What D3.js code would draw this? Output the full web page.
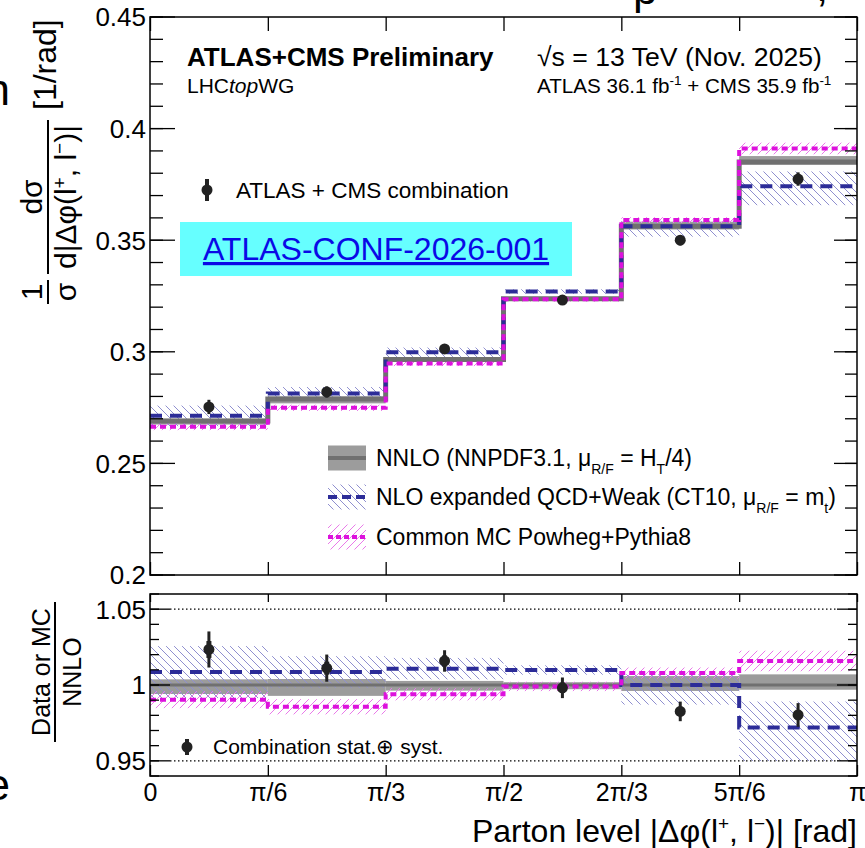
<!DOCTYPE html>
<html>
<head>
<meta charset="utf-8">
<script src="https://cdn.jsdelivr.net/npm/d3@7"></script>
<style>
  body { margin: 0; background: #fff; }
  svg { display: block; }
  text { font-family: "Liberation Sans", Arial, Helvetica, sans-serif; fill: #000; }
</style>
</head>
<body>
<svg id="chart" width="865" height="848"></svg>
<script>
// ---- Binning: |Δφ(l+, l-)| in units of π/6 ----
const binEdgeMultiples = [0, 1, 2, 3, 4, 5, 6];
const xTickLabels = ["0", "π/6", "π/3", "π/2", "2π/3", "5π/6", "π"];

// ---- ATLAS + CMS combination (normalised cross-section, 1/rad) ----
const combValues  = [0.2753, 0.2820, 0.3013, 0.3232, 0.3500, 0.3774];
const combTotErr  = [0.0032, 0.0025, 0.0021, 0.0022, 0.0023, 0.0030];
const combStatErr = [0.0015, 0.0012, 0.0011, 0.0011, 0.0011, 0.0013];

// ---- NNLO (NNPDF3.1, μR/F = HT/4) ----
const nnloValues = [0.2690, 0.2789, 0.2966, 0.3238, 0.3562, 0.3850];
const nnloUp     = [0.0010, 0.0011, 0.0008, 0.0006, 0.0021, 0.0027];
const nnloDown   = [0.0016, 0.0020, 0.0011, 0.0009, 0.0014, 0.0012];

// ---- NLO expanded QCD+Weak (CT10, μR/F = mt) ----
const nloValues = [0.2713, 0.2813, 0.2998, 0.3270, 0.3562, 0.3742];
const nloUp     = [0.0046, 0.0029, 0.0021, 0.0010, 0.0025, 0.0066];
const nloDown   = [0.0046, 0.0029, 0.0021, 0.0010, 0.0046, 0.0085];

// ---- Common MC Powheg+Pythia8 ----
const mcValues = [0.2664, 0.2749, 0.2948, 0.3235, 0.3590, 0.3911];
const mcUp     = [0.0015, 0.0014, 0.0012, 0.0010, 0.0013, 0.0026];
const mcDown   = [0.0015, 0.0014, 0.0012, 0.0010, 0.0013, 0.0026];

// ---- Axis ticks ----
const mainMajorTicks  = [0.2, 0.25, 0.3, 0.35, 0.4, 0.45];
const mainTickLabels  = ["0.2", "0.25", "0.3", "0.35", "0.4", "0.45"];
const ratioMajorTicks = [0.95, 1.0, 1.05];
const ratioTickLabels = ["0.95", "1", "1.05"];
const mainDomain  = [0.2, 0.45];
const ratioDomain = [0.94, 1.06];

// ---- Colours ----
const colNNLOBand = "#9c9c9c", colNNLOLine = "#707070";
const colNLO = "#2c2c98", colNLOHatch = "#8f8fcf";
const colMC = "#dd11dd", colMCHatch = "#e97ae9";

const svg = d3.select("#chart");
const L = 150, R = 857;
const mainTop = 17, mainBot = 575;
const ratioTop = 594, ratioBot = 776;

const PI = Math.PI;
const binEdges = binEdgeMultiples.map(k => k * PI / 6);
const x = d3.scaleLinear().domain([0, PI]).range([L, R]);
const yMain = d3.scaleLinear().domain(mainDomain).range([mainBot, mainTop]);
const yRatio = d3.scaleLinear().domain(ratioDomain).range([ratioBot, ratioTop]);

// hatch patterns
const defs = svg.append("defs");
function hatch(id, color, dir) {
  const p = defs.append("pattern").attr("id", id)
    .attr("patternUnits", "userSpaceOnUse").attr("width", 8).attr("height", 8);
  const segs = dir === "back"
    ? [[-2, -2, 10, 10], [-2, 6, 2, 10], [6, -2, 10, 2]]
    : [[-2, 10, 10, -2], [-2, 2, 2, -2], [6, 10, 10, 6]];
  segs.forEach(s => p.append("line")
    .attr("x1", s[0]).attr("y1", s[1]).attr("x2", s[2]).attr("y2", s[3])
    .attr("stroke", color).attr("stroke-width", 1));
}
hatch("hatchNLO", colNLOHatch, "back");
hatch("hatchMC", colMCHatch, "fwd");

defs.append("clipPath").attr("id", "clipMain").append("rect")
  .attr("x", L).attr("y", mainTop).attr("width", R - L).attr("height", mainBot - mainTop);
defs.append("clipPath").attr("id", "clipRatio").append("rect")
  .attr("x", L).attr("y", ratioTop).attr("width", R - L).attr("height", ratioBot - ratioTop);

const bins = d3.range(combValues.length).map(i => ({
  i, lo: binEdges[i], hi: binEdges[i + 1], mid: (binEdges[i] + binEdges[i + 1]) / 2
}));

function stepPath(vals, y) {
  let d = `M${x(binEdges[0])},${y(vals[0])}`;
  vals.forEach((v, i) => {
    if (i > 0) d += `V${y(v)}`;
    d += `H${x(binEdges[i + 1])}`;
  });
  return d;
}

function drawBands(g, y, lo, hi, fill) {
  g.selectAll(null).data(bins).join("rect")
    .attr("x", b => x(b.lo)).attr("width", b => x(b.hi) - x(b.lo))
    .attr("y", b => y(hi[b.i])).attr("height", b => Math.max(0, y(lo[b.i]) - y(hi[b.i])))
    .attr("fill", fill);
}

function drawPanel(y, ratio, clipId) {
  const g = svg.append("g").attr("clip-path", `url(#${clipId})`);
  const norm = ratio ? nnloValues : nnloValues.map(() => 1);
  const sc = (vals) => vals.map((v, i) => v / norm[i]);
  const band = (vals, up, dn) => [
    vals.map((v, i) => (v - dn[i]) / norm[i]),
    vals.map((v, i) => (v + up[i]) / norm[i])
  ];
  const nn = band(nnloValues, nnloUp, nnloDown);
  const nl = band(nloValues, nloUp, nloDown);
  const mc = band(mcValues, mcUp, mcDown);
  drawBands(g, y, nn[0], nn[1], colNNLOBand);
  drawBands(g, y, nl[0], nl[1], "url(#hatchNLO)");
  drawBands(g, y, mc[0], mc[1], "url(#hatchMC)");
  g.append("path").attr("d", stepPath(sc(nnloValues), y))
    .attr("fill", "none").attr("stroke", colNNLOLine).attr("stroke-width", ratio ? 3 : 5);
  g.append("path").attr("d", stepPath(sc(nloValues), y))
    .attr("fill", "none").attr("stroke", colNLO).attr("stroke-width", 4)
    .attr("stroke-dasharray", "12,8");
  g.append("path").attr("d", stepPath(sc(mcValues), y))
    .attr("fill", "none").attr("stroke", colMC).attr("stroke-width", 4)
    .attr("stroke-dasharray", "6,4");
  // combination points
  const pts = g.append("g");
  bins.forEach(b => {
    const v = combValues[b.i] / norm[b.i];
    const et = combTotErr[b.i] / norm[b.i];
    const es = combStatErr[b.i] / norm[b.i];
    const cx = x(b.mid);
    pts.append("line").attr("x1", cx).attr("x2", cx)
      .attr("y1", y(v - et)).attr("y2", y(v + et))
      .attr("stroke", "#222").attr("stroke-width", 3);
    pts.append("line").attr("x1", cx).attr("x2", cx)
      .attr("y1", y(v - es)).attr("y2", y(v + es))
      .attr("stroke", "#222").attr("stroke-width", 5);
    pts.append("circle").attr("cx", cx).attr("cy", y(v)).attr("r", 5.5).attr("fill", "#222");
  });
}

drawPanel(yMain, false, "clipMain");
drawPanel(yRatio, true, "clipRatio");

// dotted reference lines in the ratio panel
[1.05, 0.95].forEach(v => {
  svg.append("line").attr("x1", L + 20).attr("x2", R - 20)
    .attr("y1", yRatio(v)).attr("y2", yRatio(v))
    .attr("stroke", "#000").attr("stroke-width", 1.2).attr("stroke-dasharray", "1.5,2.5");
});

// ---- axes ----
function yAxis(y, majors, labels, minors, majLen, minLen, showLabels, side) {
  const pos = side === "left" ? L : R;
  const sign = side === "left" ? 1 : -1;
  const g = svg.append("g");
  g.selectAll(null).data(minors).join("line")
    .attr("x1", pos).attr("x2", pos + sign * minLen)
    .attr("y1", d => y(d)).attr("y2", d => y(d)).attr("stroke", "#000").attr("stroke-width", 1.3);
  g.selectAll(null).data(majors).join("line")
    .attr("x1", pos).attr("x2", pos + sign * majLen)
    .attr("y1", d => y(d)).attr("y2", d => y(d)).attr("stroke", "#000").attr("stroke-width", 1.3);
  if (showLabels) {
    g.selectAll(null).data(majors).join("text")
      .attr("x", pos - 4).attr("y", d => y(d)).attr("dy", "0.36em")
      .attr("text-anchor", "end").attr("font-size", 26)
      .text((d, i) => labels[i]);
  }
}
const mainMinors = d3.range(0.20, 0.4501, 0.01).map(v => +v.toFixed(2));
const ratioMinors = d3.range(0.94, 1.0601, 0.01).map(v => +v.toFixed(2));
yAxis(yMain, mainMajorTicks, mainTickLabels, mainMinors, 25, 13, true, "left");
yAxis(yMain, mainMajorTicks, mainTickLabels, mainMinors, 23, 12, false, "right");
yAxis(yRatio, ratioMajorTicks, ratioTickLabels, ratioMinors, 20, 9, true, "left");
yAxis(yRatio, ratioMajorTicks, ratioTickLabels, ratioMinors, 20, 9, false, "right");

// x ticks through d3 axis generators (inner ticks)
const xTickVals = binEdges;
function xTicks(yPos, len, orient) {
  const axis = (orient === "top" ? d3.axisTop(x) : d3.axisBottom(x))
    .tickValues(xTickVals).tickSizeOuter(0).tickSizeInner(-len).tickFormat("");
  const g = svg.append("g").attr("transform", `translate(0,${yPos})`).call(axis);
  g.select(".domain").remove();
  g.selectAll(".tick line").attr("stroke", "#000").attr("stroke-width", 1.3);
  return g;
}
xTicks(mainTop, 14, "top");
xTicks(mainBot, 13, "bottom");
xTicks(ratioTop, 8, "top");
const xb = svg.append("g").attr("transform", `translate(0,${ratioBot})`)
  .call(d3.axisBottom(x).tickValues(xTickVals).tickSizeOuter(0).tickSizeInner(-11)
    .tickPadding(7).tickFormat((d, i) => xTickLabels[i]));
xb.select(".domain").remove();
xb.selectAll(".tick line").attr("stroke", "#000").attr("stroke-width", 1.3);
xb.selectAll(".tick text").attr("font-size", 25).attr("fill", "#000")
  .attr("font-family", "Liberation Sans, Arial, sans-serif");

// frames
[[mainTop, mainBot], [ratioTop, ratioBot]].forEach(([t, b]) => {
  svg.append("rect").attr("x", L).attr("y", t).attr("width", R - L).attr("height", b - t)
    .attr("fill", "none").attr("stroke", "#000").attr("stroke-width", 1.5);
});

// ---- header text ----
svg.append("text").attr("x", 187).attr("y", 66).attr("font-size", 26).attr("font-weight", "bold")
  .text("ATLAS+CMS Preliminary");
const lhc = svg.append("text").attr("x", 187).attr("y", 93).attr("font-size", 21);
lhc.append("tspan").text("LHC");
lhc.append("tspan").attr("font-style", "italic").text("top");
lhc.append("tspan").text("WG");
svg.append("text").attr("x", 537).attr("y", 66).attr("font-size", 26.6)
  .text("√s = 13 TeV (Nov. 2025)");
const lumi = svg.append("text").attr("x", 537).attr("y", 93).attr("font-size", 20.6);
lumi.append("tspan").text("ATLAS 36.1 fb");
lumi.append("tspan").attr("dy", -8).attr("font-size", 13.5).text("-1");
lumi.append("tspan").attr("dy", 8).text(" + CMS 35.9 fb");
lumi.append("tspan").attr("dy", -8).attr("font-size", 13.5).text("-1");

// ---- legend: combination ----
function marker(g, cx, cy, h) {
  g.append("line").attr("x1", cx).attr("x2", cx).attr("y1", cy - h).attr("y2", cy + h)
    .attr("stroke", "#222").attr("stroke-width", 4);
  g.append("circle").attr("cx", cx).attr("cy", cy).attr("r", 5.5).attr("fill", "#222");
}
marker(svg, 207, 190, 11);
svg.append("text").attr("x", 236).attr("y", 198).attr("font-size", 22.5).text("ATLAS + CMS combination");

// reference box
svg.append("rect").attr("x", 180).attr("y", 222).attr("width", 392).attr("height", 54).attr("fill", "#66ffff");
svg.append("text").attr("x", 376).attr("y", 260).attr("text-anchor", "middle").attr("font-size", 32)
  .attr("fill", "#0a0ae6").style("fill", "#0a0ae6").attr("text-decoration", "underline")
  .text("ATLAS-CONF-2026-001");

// ---- legend: theory ----
const lx = 328, lw = 38, lh = 25;
const legendRows = [458, 497, 537];
// NNLO
svg.append("rect").attr("x", lx).attr("y", legendRows[0] - lh / 2).attr("width", lw).attr("height", lh).attr("fill", colNNLOBand);
svg.append("line").attr("x1", lx).attr("x2", lx + lw).attr("y1", legendRows[0]).attr("y2", legendRows[0])
  .attr("stroke", colNNLOLine).attr("stroke-width", 4);
// NLO
svg.append("rect").attr("x", lx).attr("y", legendRows[1] - lh / 2).attr("width", lw).attr("height", lh).attr("fill", "url(#hatchNLO)");
svg.append("line").attr("x1", lx).attr("x2", lx + lw).attr("y1", legendRows[1]).attr("y2", legendRows[1])
  .attr("stroke", colNLO).attr("stroke-width", 4).attr("stroke-dasharray", "9,5");
// MC
svg.append("rect").attr("x", lx).attr("y", legendRows[2] - lh / 2).attr("width", lw).attr("height", lh).attr("fill", "url(#hatchMC)");
svg.append("line").attr("x1", lx).attr("x2", lx + lw).attr("y1", legendRows[2]).attr("y2", legendRows[2])
  .attr("stroke", colMC).attr("stroke-width", 4).attr("stroke-dasharray", "5,3");

function legText(yc) {
  return svg.append("text").attr("x", 376).attr("y", yc + 8).attr("font-size", 23);
}
const t1 = legText(legendRows[0]);
t1.append("tspan").text("NNLO (NNPDF3.1, μ");
t1.append("tspan").attr("dy", 8).attr("font-size", 14).text("R/F");
t1.append("tspan").attr("dy", -8).text(" = H");
t1.append("tspan").attr("dy", 8).attr("font-size", 14).text("T");
t1.append("tspan").attr("dy", -8).text("/4)");
const t2 = legText(legendRows[1]);
t2.append("tspan").text("NLO expanded QCD+Weak (CT10, μ");
t2.append("tspan").attr("dy", 8).attr("font-size", 14).text("R/F");
t2.append("tspan").attr("dy", -8).text(" = m");
t2.append("tspan").attr("dy", 8).attr("font-size", 14).text("t");
t2.append("tspan").attr("dy", -8).text(")");
legText(legendRows[2]).text("Common MC Powheg+Pythia8");

// ratio legend
marker(svg, 187, 747, 8);
svg.append("text").attr("x", 213).attr("y", 754).attr("font-size", 21).text("Combination stat.⊕ syst.");

// ---- axis titles ----
const yt = svg.append("g").attr("transform", "translate(48,310) rotate(-90)");
// 1/σ
yt.append("text").attr("x", 18).attr("y", -6).attr("text-anchor", "middle").attr("font-size", 30).text("1");
yt.append("line").attr("x1", 6).attr("x2", 30).attr("y1", 0).attr("y2", 0).attr("stroke", "#000").attr("stroke-width", 2);
yt.append("text").attr("x", 18).attr("y", 28).attr("text-anchor", "middle").attr("font-size", 30).text("σ");
// dσ / d|Δφ|
yt.append("text").attr("x", 113).attr("y", -6).attr("text-anchor", "middle").attr("font-size", 30).text("dσ");
yt.append("line").attr("x1", 36).attr("x2", 190).attr("y1", 0).attr("y2", 0).attr("stroke", "#000").attr("stroke-width", 2);
const den = yt.append("text").attr("x", 113).attr("y", 28).attr("text-anchor", "middle").attr("font-size", 30);
den.append("tspan").text("d|Δφ(l");
den.append("tspan").attr("dy", -10).attr("font-size", 19).text("+");
den.append("tspan").attr("dy", 10).text(", l");
den.append("tspan").attr("dy", -10).attr("font-size", 19).text("−");
den.append("tspan").attr("dy", 10).text(")|");
yt.append("text").attr("x", 200).attr("y", 8).attr("font-size", 32).text("[1/rad]");

const rt = svg.append("g").attr("transform", "translate(55,672) rotate(-90)");
rt.append("text").attr("x", 0).attr("y", -5).attr("text-anchor", "middle").attr("font-size", 25).text("Data or MC");
rt.append("line").attr("x1", -70).attr("x2", 70).attr("y1", 0).attr("y2", 0).attr("stroke", "#000").attr("stroke-width", 2);
rt.append("text").attr("x", 0).attr("y", 26).attr("text-anchor", "middle").attr("font-size", 25).text("NNLO");

const xt = svg.append("text").attr("x", R).attr("y", 842).attr("text-anchor", "end").attr("font-size", 32);
xt.append("tspan").text("Parton level |Δφ(l");
xt.append("tspan").attr("dy", -12).attr("font-size", 19).text("+");
xt.append("tspan").attr("dy", 12).text(", l");
xt.append("tspan").attr("dy", -12).attr("font-size", 19).text("−");
xt.append("tspan").attr("dy", 12).text(")| [rad]");

// neighbouring-panel lettering cut by the page edge
svg.append("text").attr("x", 10).attr("y", 105).attr("text-anchor", "end").attr("font-size", 44).text("h");
svg.append("text").attr("x", 10).attr("y", 800).attr("text-anchor", "end").attr("font-size", 44).text("e");
svg.append("text").attr("x", 633).attr("y", 4).attr("font-size", 44).text("p");
svg.append("text").attr("x", 816).attr("y", 1).attr("font-size", 44).text(",");
</script>
</body>
</html>
